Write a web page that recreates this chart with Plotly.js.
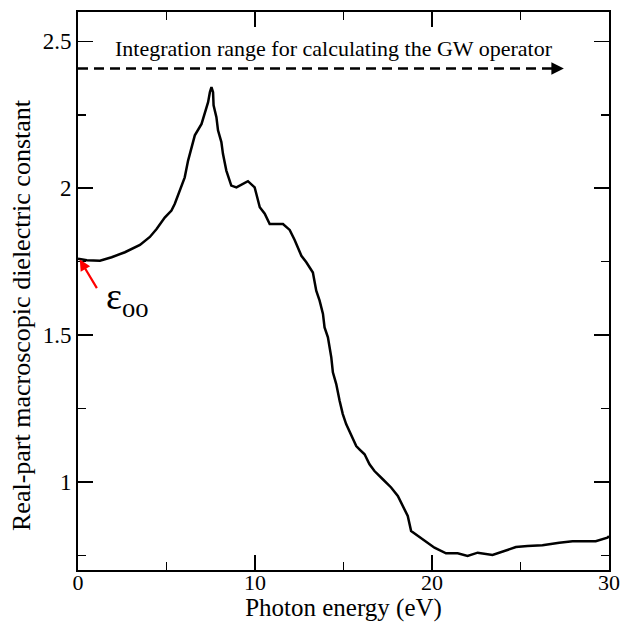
<!DOCTYPE html>
<html>
<head>
<meta charset="utf-8">
<script src="https://cdn.plot.ly/plotly-3.0.1.min.js"></script>
<style>html,body{margin:0;padding:0;background:#fff;}#chart{width:622px;height:622px;}</style>
</head>
<body>
<div id="chart"></div>
<script>
// Photon energy (eV)
var energy = [0, 0.5, 1.24, 1.9, 2.65, 3.5, 4.06, 4.44, 4.9, 5.28, 5.47, 5.75, 6.03, 6.22, 6.41, 6.6, 6.98, 7.16, 7.35, 7.45, 7.54, 7.63, 7.66, 7.82, 7.91, 8.1, 8.19, 8.38, 8.66, 8.95, 9.32, 9.6, 9.98, 10.27, 10.55, 10.83, 11.58, 11.96, 12.24, 12.62, 12.9, 13.27, 13.46, 13.65, 13.84, 13.93, 14.12, 14.31, 14.4, 14.59, 14.78, 14.96, 15.15, 15.43, 15.72, 15.9, 16.19, 16.47, 16.75, 17.22, 17.69, 18.07, 18.35, 18.63, 18.82, 19.57, 20.14, 20.79, 21.45, 22.01, 22.58, 23.42, 24.08, 24.74, 25.4, 26.24, 27.19, 27.94, 29.25, 29.91, 30];
// Real part of macroscopic dielectric constant
var epsReal = [1.76, 1.755, 1.753, 1.765, 1.782, 1.807, 1.834, 1.861, 1.90, 1.924, 1.947, 1.992, 2.037, 2.094, 2.134, 2.18, 2.219, 2.253, 2.293, 2.327, 2.344, 2.327, 2.282, 2.242, 2.197, 2.157, 2.117, 2.06, 2.009, 2.003, 2.015, 2.024, 2.003, 1.935, 1.913, 1.878, 1.878, 1.858, 1.824, 1.77, 1.748, 1.713, 1.651, 1.617, 1.572, 1.526, 1.492, 1.424, 1.373, 1.333, 1.276, 1.231, 1.197, 1.162, 1.122, 1.111, 1.094, 1.06, 1.037, 1.009, 0.981, 0.952, 0.918, 0.884, 0.833, 0.799, 0.776, 0.757, 0.757, 0.748, 0.759, 0.751, 0.765, 0.778, 0.782, 0.784, 0.793, 0.798, 0.798, 0.81, 0.815];
var xTicks = [0, 10, 20, 30];
var xTickLabels = ["0", "10", "20", "30"];
var yTicks = [1, 1.5, 2, 2.5];
var yTickLabels = ["1", "1.5", "2", "2.5"];
var rangeEnd = 27.45;   // integration range arrow end (eV)
var rangeLevel = 2.408; // integration range arrow height
var epsInf = 1.757;     // epsilon infinity value

var FONT = "'Liberation Serif', 'Times New Roman', serif";

var trace = {
  x: energy, y: epsReal, type: 'scatter', mode: 'lines',
  line: {color: 'black', width: 2.5}, hoverinfo: 'skip'
};

var axisCommon = {
  showgrid: false, zeroline: false, showline: true, linecolor: 'black', linewidth: 2,
  mirror: 'allticks', ticks: 'inside', ticklen: 15, tickwidth: 1.5, tickcolor: 'black',
  tickfont: {family: FONT, size: 23, color: 'black'}
};

var layout = {
  width: 622, height: 622,
  margin: {l: 78, r: 13, t: 12, b: 52},
  paper_bgcolor: 'white', plot_bgcolor: 'white',
  showlegend: false,
  xaxis: Object.assign({}, axisCommon, {
    range: [0, 30], tickvals: xTicks, ticktext: xTickLabels, ticklabelstandoff: -8,
    tickfont: {family: FONT, size: 22, color: 'black'},
    minor: {dtick: 5, tick0: 0, ticks: 'inside', ticklen: 8, tickwidth: 1.5, tickcolor: 'black'},
    title: {text: 'Photon energy (eV)', font: {family: FONT, size: 25, color: 'black'}, standoff: 7}
  }),
  yaxis: Object.assign({}, axisCommon, {
    range: [0.7, 2.6], tickvals: yTicks, ticktext: yTickLabels,
    minor: {dtick: 0.25, tick0: 0, ticks: 'inside', ticklen: 8, tickwidth: 1.5, tickcolor: 'black'}
  }),
  shapes: [
    {type: 'line', xref: 'x', yref: 'y', x0: 0, x1: rangeEnd - 0.35, y0: rangeLevel, y1: rangeLevel,
     line: {color: 'black', width: 2.5, dash: '10px,6px'}}
  ],
  annotations: [
    {x: -0.1055, y: 0.457, xref: 'paper', yref: 'paper', xanchor: 'center', yanchor: 'middle',
     textangle: -90, showarrow: false, text: 'Real-part macroscopic dielectric constant',
     font: {family: FONT, size: 26, color: 'black'}},
    {x: 1.95, y: 2.476, xref: 'x', yref: 'y', xanchor: 'left', yanchor: 'middle', showarrow: false,
     text: 'Integration range for calculating the GW operator',
     font: {family: FONT, size: 22, color: 'black'}},
    {x: rangeEnd, y: rangeLevel, ax: rangeEnd - 0.4, ay: rangeLevel, axref: 'x', ayref: 'y', xref: 'x', yref: 'y',
     text: '', showarrow: true, arrowhead: 2, arrowsize: 1, arrowwidth: 2.5, arrowcolor: 'black'},
    {x: 0.1, y: epsInf, xref: 'x', yref: 'y', ax: 18, ay: 30, text: '', showarrow: true,
     arrowhead: 2, arrowsize: 1, arrowwidth: 2.2, arrowcolor: 'red'},
    {x: 1.45, y: 1.622, xref: 'x', yref: 'y', xanchor: 'left', yanchor: 'middle', showarrow: false,
     text: 'ε<sub>oo</sub>', font: {family: FONT, size: 38, color: 'black'}}
  ]
};

Plotly.newPlot('chart', [trace], layout, {displayModeBar: false, staticPlot: true});
</script>
</body>
</html>
